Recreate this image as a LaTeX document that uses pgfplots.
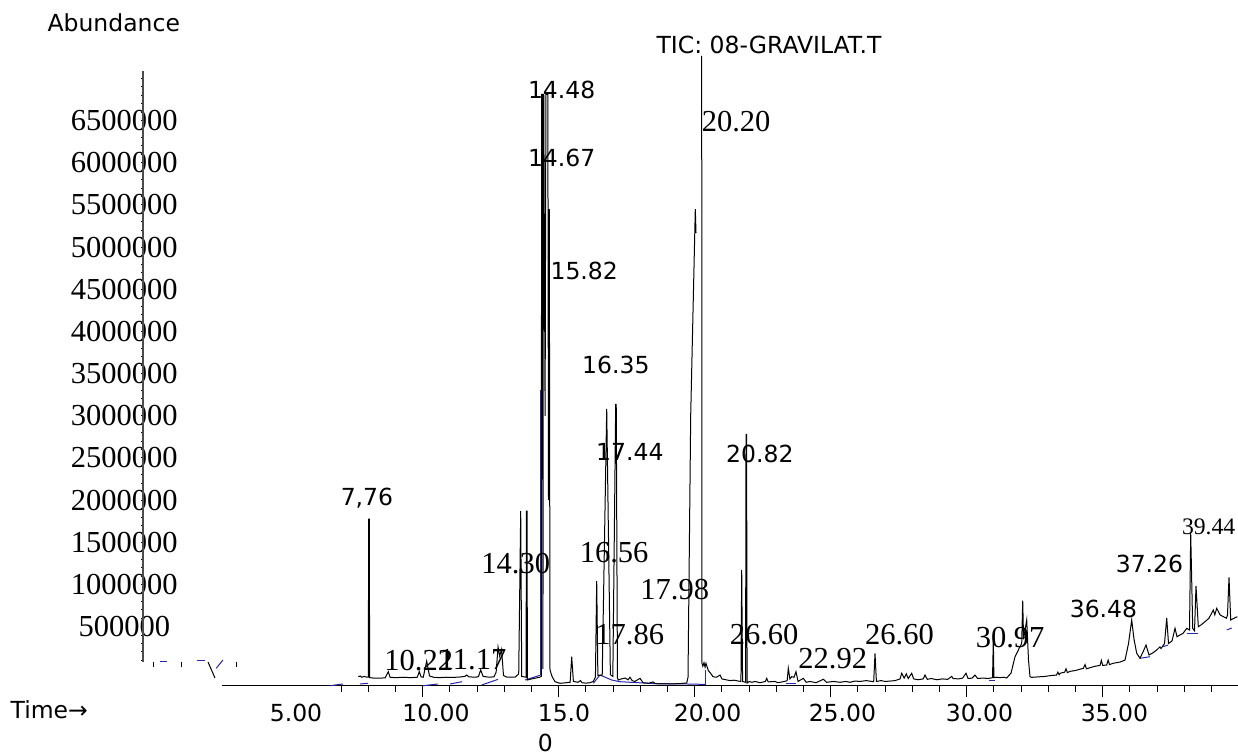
\documentclass[border=0pt]{standalone}
\usepackage{pgfplots}
\pgfplotsset{compat=1.18}
\usepackage{fontspec}
\setmainfont{Liberation Serif}
\newfontfamily\sans{DejaVu Sans}
\definecolor{bl}{RGB}{40,40,170}
\newcommand\sansl{\sans\fontsize{11.75}{15}\selectfont}
\newcommand\serl{\rmfamily\fontsize{15.25}{18}\selectfont}
\newcommand\sers{\rmfamily\fontsize{11.85}{14}\selectfont}
\begin{document}
\begin{tikzpicture}
\begin{axis}[
  at={(0,0)}, anchor=south west,
  scale only axis, width=547.5pt, height=342.5pt,
  xmin=-0.283, xmax=39.974, ymin=-192100, ymax=7930630,
  axis x line*=bottom, axis y line*=left,
  axis line style={draw=none},
  clip=false,
  tick align=outside,
  major tick length=0pt,
  minor tick length=3.5pt,
  tick style={black, line width=0.5pt},
  xtick={5.342,10.489,15.195,20.474,25.43,30.47,35.43},
  xticklabels={5.00,10.00,{\begin{tabular}[t]{@{}l@{}}15.0\\0\end{tabular}},20.00,25.00,30.00,35.00},
  xticklabel style={anchor=base, yshift=-18pt, inner sep=0pt, font=\sansl},
  minor xtick={7,8,9,10,11,12,13,14,15,16,17,18,19,20,21,22,23,24,25,26,27,28,29,30,31,32,33,34,35,36,37,38,39},
  extra x ticks={10,15,20,25,30,35},
  extra x tick labels={},
  extra x tick style={major tick length=6pt},
  ytick={500000,1000000,1500000,2000000,2500000,3000000,3500000,4000000,4500000,5000000,5500000,6000000,6500000},
  yticklabels={500000,1000000,1500000,2000000,2500000,3000000,3500000,4000000,4500000,5000000,5500000,6000000,6500000},
  yticklabel style={anchor=center, xshift=-9.35pt, inner sep=0pt, font=\serl},
  extra y ticks={100000,200000,300000,400000,500000,600000,700000,800000,900000,1000000,1100000,1200000,1300000,1400000,1500000,1600000,1700000,1800000,1900000,2000000,2100000,2200000,2300000,2400000,2500000,2600000,2700000,2800000,2900000,3000000,3100000,3200000,3300000,3400000,3500000,3600000,3700000,3800000,3900000,4000000,4100000,4200000,4300000,4400000,4500000,4600000,4700000,4800000,4900000,5000000,5100000,5200000,5300000,5400000,5500000,5600000,5700000,5800000,5900000,6000000,6100000,6200000,6300000,6400000,6500000,6600000,6700000,6800000,6900000,7000000},
  extra y tick labels={},
  extra y tick style={major tick length=1pt},
]
% axis lines
\draw[black, line width=0.5pt] (axis cs:2.61,-192100) -- (axis cs:39.974,-192100);
\draw[black!70, line width=0.6pt] (axis cs:-0.283,80600) -- (axis cs:-0.283,7088700);

% blue baselines (drawn first)
\addplot[bl, line width=0.5pt] coordinates {(6.592,-200400)(7.070,-180200)};
\addplot[bl, line width=0.5pt] coordinates {(7.695,-180200)(7.989,-172000)};
\addplot[bl, line width=0.5pt] coordinates {(10.011,-200400)(10.5625,-180200)};
\addplot[bl, line width=0.5pt] coordinates {(11.004,-180200)(11.445,-153000)};
\addplot[bl, line width=0.5pt] coordinates {(12.169,-192000)(12.768,-125000)};
\addplot[bl, line width=0.5pt] coordinates {(13.761,-133000)(14.33,-75000)};
\addplot[bl, line width=0.5pt] coordinates {(14.33,-75000)(14.33,3306000)};
\addplot[bl, line width=0.5pt] coordinates {(16.272,-172000)(16.518,-73500)(16.949,-133000)(17.254,-153000)(18.50,-175000)(19.706,-180000)(20.379,-185000)};
\addplot[bl, line width=0.5pt] coordinates {(20.379,-192000)(20.379,-14000)};
\addplot[bl, line width=0.5pt] coordinates {(23.35,-172000)(23.72,-172000)};
\addplot[bl, line width=0.5pt] coordinates {(30.83,-133000)(31.04,-133000)};
\addplot[bl, line width=0.5pt] coordinates {(36.371,124500)(36.739,143500)};
\addplot[bl, line width=0.5pt] coordinates {(37.217,262000)(37.40,282000)};
\addplot[bl, line width=0.5pt] coordinates {(38.088,424500)(38.515,424500)};
\addplot[bl, line width=0.5pt] coordinates {(39.559,460000)(39.743,484000)};

% main trace, part 1
\addplot[black, line width=0.5pt] coordinates {
(7.632,-94000)(7.70,-85000)(7.76,-100000)(7.85,-90000)(7.95,-100000)(8.00,-100000)(8.015,1776000)(8.035,1776000)(8.05,-105000)(8.20,-110000)(8.45,-110000)(8.62,-108000)(8.735,-34000)(8.80,-100000)(9.00,-105000)(9.30,-100000)(9.55,-105000)(9.80,-100000)(9.875,-34000)(9.94,-95000)(10.02,-100000)(10.147,92000)(10.25,-85000)(10.40,-100000)(10.60,-105000)(10.85,-100000)(11.10,-102000)(11.35,-98000)(11.55,-90000)(11.618,-74000)(11.70,-95000)(11.95,-100000)(12.05,-92000)(12.132,-14000)(12.22,-90000)(12.45,-100000)(12.62,-95000)(12.70,-40000)(12.77,258000)(12.83,150000)(12.90,230000)(12.97,-80000)(13.10,-100000)(13.40,-98000)(13.53,-60000)(13.603,1871000)(13.64,-90000)(13.72,-95000)(13.80,-100000)(13.815,1871000)(13.835,1871000)(13.85,-133000)(14.00,-120000)(14.30,-100000)(14.36,-90000)(14.372,6812000)(14.40,6812000)(14.42,0)(14.44,6812000)(14.45,6812000)(14.50,3000000)(14.53,6812000)(14.60,6812000)(14.625,2000000)(14.654,5452000)(14.68,-14000)(14.754,-90000)(14.864,-153000)(15.048,-172000)(15.27,-165000)(15.42,-160000)(15.478,143000)(15.54,-150000)(15.71,-160000)(15.80,-140000)(15.86,-165000)(16.00,-170000)(16.151,-165000)(16.272,-150000)(16.35,-100000)(16.397,1041000)(16.44,-80000)(16.60,-75000)(16.765,3081000)(16.90,-70000)(16.99,-90000)(17.095,3136000)(17.115,3136000)(17.16,-110000)(17.191,-133000)(17.30,-120000)(17.44,-110000)(17.55,-130000)(17.62,-100000)(17.70,-140000)(17.80,-150000)(17.99,-113000)(18.10,-165000)(18.30,-172000)(18.47,-155000)(18.55,-175000)(18.72,-180000)(19.09,-180000)(19.46,-175000)(19.65,-170000)(19.706,-168000)(19.754,-100000)(19.853,3010000)(20.022,5452000)(20.048,5168000)
};
% main trace, part 2
\addplot[black, line width=0.5pt] coordinates {
(20.257,7267000)(20.268,65000)(20.30,30000)(20.342,72000)(20.38,20000)(20.415,65000)(20.50,-20000)(20.60,-60000)(20.673,-94000)(20.80,-100000)(20.93,-74000)(21.00,-120000)(21.15,-130000)(21.30,-140000)(21.45,-135000)(21.60,-145000)(21.70,-150000)(21.728,1172000)(21.76,-150000)(21.87,-160000)(21.887,2780000)(21.907,2780000)(21.925,-170000)(22.00,-150000)(22.10,-160000)(22.22,-150000)(22.40,-165000)(22.60,-150000)(22.647,-113000)(22.70,-155000)(22.95,-150000)(23.06,-165000)(23.30,-150000)(23.40,-140000)(23.441,6000)(23.50,-120000)(23.566,-94000)(23.65,-100000)(23.724,-34000)(23.80,-150000)(23.993,-113000)(24.10,-160000)(24.24,-150000)(24.46,-165000)(24.728,-124000)(24.85,-160000)(25.10,-150000)(25.34,-160000)(25.55,-150000)(25.71,-160000)(25.90,-145000)(26.08,-150000)(26.30,-140000)(26.58,-153000)(26.629,183000)(26.68,-150000)(26.85,-140000)(27.00,-150000)(27.20,-145000)(27.364,-140000)(27.55,-120000)(27.61,-53000)(27.70,-110000)(27.78,-60000)(27.85,-115000)(27.978,-53000)(28.05,-120000)(28.21,-130000)(28.40,-120000)(28.467,-74000)(28.55,-125000)(28.70,-115000)(28.90,-130000)(29.10,-120000)(29.30,-125000)(29.45,-90000)(29.50,-115000)(29.70,-120000)(29.85,-110000)(29.974,-53000)(30.05,-115000)(30.20,-110000)(30.305,-74000)(30.40,-115000)(30.60,-110000)(30.80,-115000)(30.95,-105000)(30.978,353000)(31.00,-105000)(31.10,-100000)(31.224,-105000)(31.35,-100000)(31.471,-109000)(31.63,-50000)(31.776,143000)(31.923,240000)(32.022,302000)(32.059,808000)(32.09,350000)(32.206,579000)(32.272,100000)(32.327,-94000)(32.39,-101000)(32.88,-90000)(33.10,-80000)(33.30,-75000)(33.35,-40000)(33.40,-70000)(33.43,-53000)(33.60,-40000)(33.65,0)(33.70,-45000)(33.80,-30000)(34.00,-20000)(34.287,6000)(34.35,50000)(34.40,0)(34.50,10000)(34.72,30000)(34.90,40000)(34.95,100000)(35.00,40000)(35.147,45000)(35.20,104000)(35.25,50000)(35.38,65000)(35.636,80000)(35.82,104000)(35.949,300000)(36.066,579000)(36.151,350000)(36.25,184000)(36.371,125000)(36.482,200000)(36.592,282000)(36.702,164000)(36.849,190000)(36.985,223000)(37.10,260000)(37.143,240000)(37.272,300000)(37.353,602000)(37.419,300000)(37.548,330000)(37.658,480000)(37.732,380000)(37.842,401000)(37.952,420000)(38.088,480000)(38.191,460000)(38.235,1607000)(38.309,480000)(38.375,450000)(38.43,982000)(38.515,499000)(38.614,520000)(38.761,559000)(38.908,600000)(39.066,697000)(39.12,640000)(39.191,717000)(39.313,640000)(39.434,618000)(39.55,600000)(39.588,640000)(39.643,1085000)(39.706,579000)(39.827,600000)(39.949,618000)
};
% left artefacts
\addplot[black, line width=0.5pt] coordinates {(2.107,80600)(2.364,-109000)};
\addplot[black, line width=0.5pt] coordinates {(0.121,84000)(0.121,25000)};
\addplot[black, line width=0.5pt] coordinates {(1.140,84000)(1.140,25000)};
\addplot[black, line width=0.5pt] coordinates {(3.140,84000)(3.140,25000)};
\addplot[bl, line width=0.5pt] coordinates {(2.41,5900)(2.655,104000)};
\addplot[bl, line width=0.5pt] coordinates {(0.342,92500)(0.599,92500)};
\addplot[bl, line width=0.5pt] coordinates {(1.691,104000)(1.996,104000)};
\end{axis}
% titles and peak labels
\begin{scope}[every node/.style={anchor=base west, inner sep=0pt}]
\node[font=\sansl] at (-47.9pt,326.5pt) {Abundance};
\node[font=\sansl] at (256.6pt,315.85pt) {TIC: 08-GRAVILAT.T};
\node[font=\sansl] at (-66.4pt,-16.65pt) {Time→};
\node[font=\sansl] at (192.3pt,293.35pt) {14.48};
\node[font=\sansl] at (192.3pt,259.15pt) {14.67};
\node[font=\sansl] at (203.6pt,202.85pt) {15.82};
\node[font=\sansl] at (219.4pt,155.5pt) {16.35};
\node[font=\serl] at (279.2pt,276.65pt) {20.20};
\node[font=\sansl] at (226.4pt,112.15pt) {17.44};
\node[font=\sansl] at (291.4pt,111.15pt) {20.82};
\node[font=\serl] at (169.0pt,55.85pt) {14.30};
\node[font=\serl] at (218.2pt,61.35pt) {16.56};
\node[font=\serl] at (248.5pt,42.85pt) {17.98};
\node[font=\serl] at (226.0pt,20.5pt) {17.86};
\node[font=\serl] at (293.2pt,20.5pt) {26.60};
\node[font=\serl] at (120.5pt,7.5pt) {10.22};
\node[font=\serl] at (147.7pt,7.85pt) {11.17};
\node[font=\serl] at (327.5pt,8.5pt) {22.92};
\node[font=\serl] at (360.9pt,20.5pt) {26.60};
\node[font=\serl] at (416.2pt,18.85pt) {30.97};
\node[font=\sansl] at (463.2pt,33.85pt) {36.48};
\node[font=\sansl] at (486.2pt,56.15pt) {37.26};
\node[font=\sers] at (519.3pt,75.5pt) {39.44};
\node[font=\sansl] at (98.7pt,90pt) {7,76};
\end{scope}
\pgfresetboundingbox
\useasboundingbox (-71.5pt,-33pt) rectangle (547.5pt,342.5pt);
\end{tikzpicture}
\end{document}
